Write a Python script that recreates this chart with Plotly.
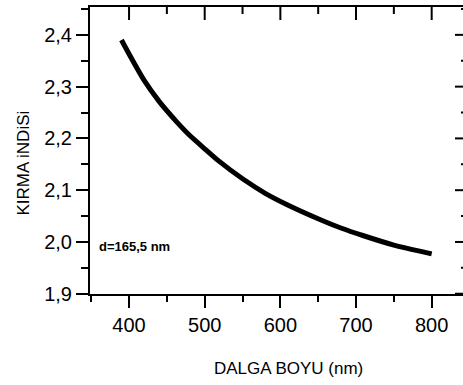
import plotly.graph_objects as go

# Refractive index vs. wavelength for the d = 165.5 nm film
wavelength_nm = [390, 400, 420, 440, 463, 480, 500, 518, 551, 580, 609, 653, 680, 710, 750, 800]
refractive_index = [2.390, 2.363, 2.312, 2.271, 2.232, 2.206, 2.180, 2.157, 2.121, 2.094,
                    2.072, 2.043, 2.027, 2.012, 1.994, 1.977]

x_range = [348.4, 841.4]
y_range = [1.8995, 2.4538]

x_title = "DALGA BOYU (nm)"
y_title = "KIRMA iNDiSi"
film_label = "d=165,5 nm"

font_family = "Liberation Sans, Arial, sans-serif"
tick_font = dict(family=font_family, size=20, color="black")

# plot-area size in px, used to turn tick lengths into paper fractions
plot_w, plot_h = 463 - 90, 385 - 7 - 91

fig = go.Figure()
fig.add_trace(go.Scatter(
    x=wavelength_nm, y=refractive_index, mode="lines",
    line=dict(color="black", width=5, shape="spline", smoothing=0.5),
    showlegend=False, hoverinfo="skip",
))

# inward-pointing ticks on the top and right frame edges
frame_ticks = []
for i, xv in enumerate(range(400, 850, 50)):
    length = 13 if i % 2 == 0 else 7
    frame_ticks.append(dict(type="line", xref="x", yref="paper", x0=xv, x1=xv,
                            y0=1, y1=1 - length / plot_h,
                            line=dict(color="black", width=2), layer="above"))
for i in range(12):
    yv = round(1.9 + 0.05 * i, 2)
    length = 8 if i % 2 == 0 else 2
    frame_ticks.append(dict(type="line", xref="paper", yref="y", x0=1, x1=1 - length / plot_w,
                            y0=yv, y1=yv, line=dict(color="black", width=2), layer="above"))

fig.update_layout(
    width=463, height=385,
    margin=dict(l=90, r=0, t=7, b=91),
    paper_bgcolor="white", plot_bgcolor="white",
    separators=",.",
    showlegend=False,
    xaxis=dict(range=x_range, dtick=100, tick0=0, ticks="outside", ticklen=12,
               showgrid=False, zeroline=False, showline=True, mirror=True,
               linecolor="black", linewidth=2, tickcolor="black", tickwidth=2,
               minor=dict(dtick=50, tick0=0, ticks="outside", ticklen=6,
                          tickwidth=2, tickcolor="black"),
               tickfont=tick_font),
    yaxis=dict(range=y_range, dtick=0.1, tick0=1.9, tickformat=".1f", ticks="outside",
               ticklen=12, showgrid=False, zeroline=False, showline=True,
               linecolor="black", linewidth=2, tickcolor="black", tickwidth=2,
               minor=dict(dtick=0.05, tick0=1.9, ticks="outside", ticklen=7,
                          tickwidth=2, tickcolor="black"),
               tickfont=tick_font),
    shapes=frame_ticks,
    annotations=[
        dict(text=x_title, xref="paper", yref="paper", x=0.532, y=-0.258,
             xanchor="center", yanchor="middle", showarrow=False,
             font=dict(family=font_family, size=17, color="black")),
        dict(text=y_title, xref="paper", yref="paper", x=-0.178, y=0.4566,
             xanchor="center", yanchor="middle", textangle=-90, showarrow=False,
             font=dict(family=font_family, size=17, color="black")),
        dict(text="<b>" + film_label + "</b>", xref="paper", yref="paper", x=0.02, y=0.164,
             xanchor="left", yanchor="middle", showarrow=False,
             font=dict(family=font_family, size=13, color="black")),
    ],
)

fig.write_html("out.html")
